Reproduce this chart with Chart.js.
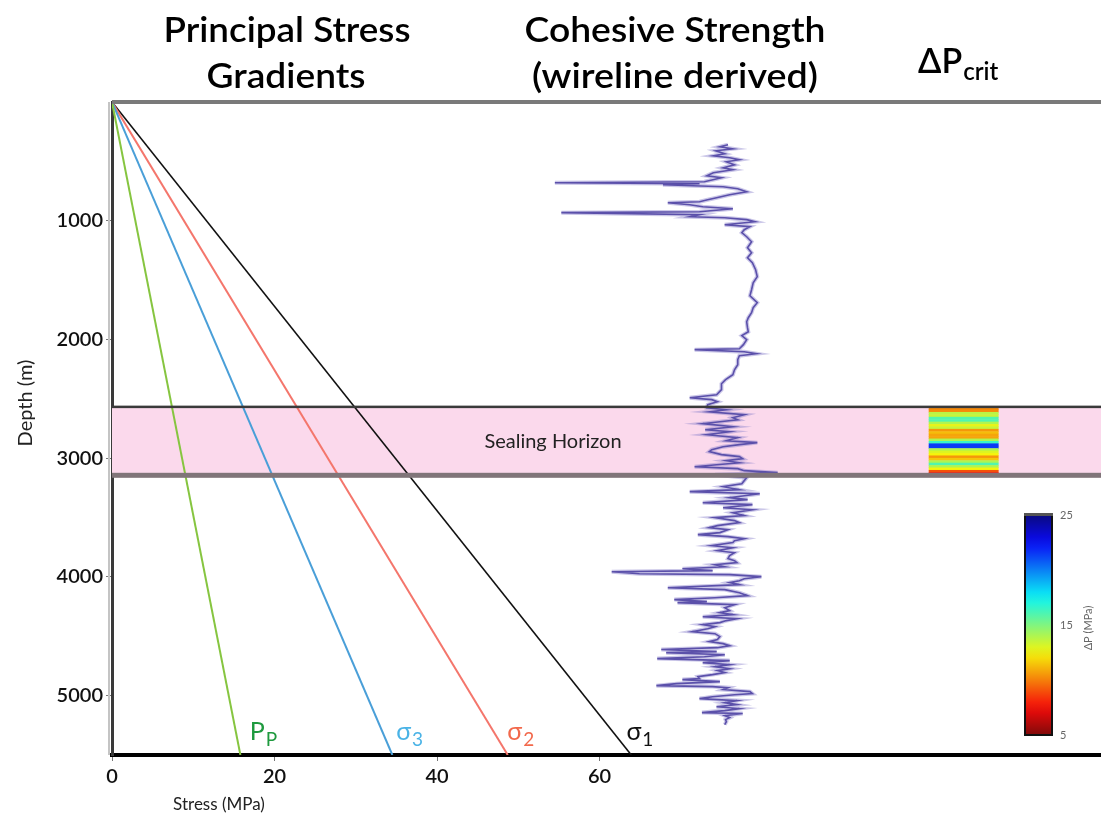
<!DOCTYPE html>
<html>
<head>
<meta charset="utf-8">
<script src="https://cdn.jsdelivr.net/npm/chart.js@4"></script>
<style>
  html, body { margin: 0; padding: 0; background: #fff; }
  canvas { display: block; }
</style>
</head>
<body>
<canvas id="chartStress" width="1101" height="817"></canvas>
<script>
// gradient lines: depth (m) and stress (MPa) at top and bottom
const gradDepth = [0, 5500];
const sigma1 = [0, 63.9];
const sigma2 = [0, 48.7];
const sigma3 = [0, 34.5];
const porePressure = [0, 15.8];

// cohesive strength log (wireline derived)
const cohDepth = [360,377,394,411,436,453,469,486,503,529,554,570,596,621,638,672,680,688,697,714,730,756,781,806,823,840,848,865,882,899,924,932,949,966,975,991,1008,1034,1050,1076,1101,1135,1177,1227,1269,1312,1353,1413,1471,1522,1581,1632,1690,1732,1775,1817,1851,1901,1935,1968,2002,2044,2078,2086,2103,2120,2137,2170,2213,2255,2297,2339,2373,2423,2466,2491,2507,2524,2550,2575,
  2592,2609,2634,2659,2676,2693,2709,2735,2760,2777,2802,2827,2853,2869,2886,2903,2928,2945,2970,2987,3004,3021,3038,3055,3072,3088,3105,3122,3139,3164,3189,
  3215,3240,3265,3282,3299,3316,3332,3349,3375,3391,3417,3434,3459,3484,3501,3526,3543,3568,3585,3602,3627,3644,3661,3678,3695,3711,3737,3754,3779,3796,3821,3846,3863,3880,3897,3914,3931,3947,3956,3973,3981,3998,4015,4032,4048,4065,4091,4107,4133,4158,4175,4191,4208,4217,4234,4259,4284,4301,4318,4335,4352,4368,4385,4402,4419,4436,4461,4478,4503,4528,4545,4562,4579,4596,4612,4629,4638,4655,4672,4688,4705,4722,4739,4756,4773,4789,4806,4823,4840,4857,4865,4882,4899,4916,4924,4933,4949,4966,4983,4992,5009,5025,5042,5059,5076,5093,5109,5126,5143,5151,5168,5185,5202,5219,5244];
const cohStrength = [75.8,74.8,76.4,74.3,75.4,74.0,76.0,77.2,75.6,76.6,75.2,76.4,74.0,73.2,75.0,72.9,54.5,72.3,67.8,75.2,77.0,78.1,76.0,74.4,73.3,72.3,68.4,71.1,72.7,76.4,72.3,55.3,72.3,71.1,75.4,78.1,79.1,75.4,78.5,77.8,77.5,78.1,78.7,78.2,78.7,78.2,78.8,79.2,79.4,78.9,78.7,78.5,79.4,78.9,78.7,78.3,78.1,78.2,78.3,77.5,78.1,77.7,77.2,71.7,77.8,79.3,77.2,77.0,77.0,76.6,76.4,75.5,75.0,75.0,74.4,71.1,73.8,74.5,73.3,73.2,
  75.6,73.5,77.8,76.4,77.0,74.8,72.7,76.4,73.0,76.0,73.2,77.0,75.6,79.4,77.2,75.2,73.8,73.5,75.0,77.2,77.6,75.6,77.2,74.4,71.7,77.0,77.8,81.9,74.2,78.1,77.8,
  77.5,75.2,77.2,71.1,79.7,77.8,76.0,78.2,72.7,78.8,75.2,78.8,76.4,77.8,74.2,76.6,77.2,74.5,73.5,75.8,74.8,72.1,75.8,77.8,76.6,76.4,73.8,76.4,74.5,76.6,76.0,75.8,76.6,76.9,74.2,75.4,70.2,73.9,61.5,64.9,76.0,79.9,77.8,77.2,76.0,77.2,68.4,75.4,77.2,78.2,74.2,69.2,73.2,69.6,76.6,75.4,76.0,74.8,76.4,72.7,76.9,75.6,74.8,72.7,74.2,73.3,71.4,74.2,74.8,74.5,73.5,75.2,76.0,74.5,67.6,74.4,68.2,75.4,72.9,67.1,76.0,72.7,76.0,74.2,76.0,74.5,75.4,73.9,72.1,72.3,70.2,74.8,69.5,67.0,73.9,75.8,75.2,78.5,78.8,76.6,73.9,72.3,76.9,75.4,76.9,74.4,77.2,75.4,72.6,77.6,75.4,76.0,75.5,75.6,75.4];

// sealing horizon (m) and critical pressure stripes inside it (MPa, top to bottom)
const sealDepth = [2570, 3140];
const deltaP = [10.2,10.2,13.8,13.5,16,16,14,12.8,13.5,10.5,11.3,10.8,10.8,14,16.5,21.5,21.5,14,13,12.5,10.5,11.5,14,16,14,12.5,9,7.5];
const deltaPStress = [100.5, 109.1];
const colorbarTicks = [25, 15, 5];

const xTicks = [0, 20, 40, 60];
const yTicks = [1000, 2000, 3000, 4000, 5000];

// jet-like map, 25 MPa dark blue down to 5 MPa dark red
function jet(v) {
  const t = 1 - (v - 5) / 20;
  const c = x => Math.round(235 * Math.max(0, Math.min(1, x)) + 10);
  return 'rgb(' + c(1.5 - Math.abs(4 * t - 3)) + ',' + c(1.5 - Math.abs(4 * t - 2)) + ',' + c(1.5 - Math.abs(4 * t - 1)) + ')';
}

function pts(xs, ys) {
  return xs.map((x, i) => ({ x: x, y: ys[i] }));
}

function fitText(ctx, txt, cx, y, font, width) {
  ctx.font = font;
  const w = ctx.measureText(txt).width;
  ctx.save();
  ctx.translate(cx, y);
  ctx.scale(width / w, 1);
  ctx.textAlign = 'center';
  ctx.fillText(txt, 0, 0);
  ctx.restore();
}

function subText(ctx, main, sub, x, y, size, color, subSize, drop, weight) {
  ctx.fillStyle = color;
  ctx.textAlign = 'left';
  ctx.font = (weight || '') + ' ' + size + 'px Lato, sans-serif';
  ctx.fillText(main, x, y);
  const w = ctx.measureText(main).width;
  ctx.font = (weight || '') + ' ' + subSize + 'px Lato, sans-serif';
  ctx.fillText(sub, x + w + 1, y + drop);
}

const sealPlugin = {
  id: 'seal',
  beforeDatasetsDraw(chart) {
    const { ctx, chartArea: a, scales: { y } } = chart;
    const top = y.getPixelForValue(sealDepth[0]);
    const bot = y.getPixelForValue(sealDepth[1]);
    ctx.save();
    ctx.fillStyle = '#fbd9ec';
    ctx.fillRect(a.left, top, a.right - a.left, bot - top);
    ctx.restore();
  },
  afterDatasetsDraw(chart) {
    const { ctx, chartArea: a, scales: { x, y } } = chart;
    const top = y.getPixelForValue(sealDepth[0]);
    const bot = y.getPixelForValue(sealDepth[1]);
    ctx.save();
    // critical pressure stripes
    const x0 = x.getPixelForValue(deltaPStress[0]);
    const x1 = x.getPixelForValue(deltaPStress[1]);
    const h = (bot - top) / deltaP.length;
    deltaP.forEach((v, i) => {
      ctx.fillStyle = jet(v);
      ctx.fillRect(x0, top + i * h, x1 - x0, h + 0.5);
    });
    ctx.fillStyle = '#3a3a3a';
    ctx.fillRect(a.left, top - 1.5, a.right - a.left, 2.5);
    ctx.fillStyle = '#807579';
    ctx.fillRect(a.left, bot - 2, a.right - a.left, 5);
    // top frame line
    ctx.fillStyle = '#7a7a7a';
    ctx.fillRect(a.left, a.top - 2, a.right - a.left, 4);
    ctx.fillStyle = '#c4c4c4';
    ctx.fillRect(a.left - 4, a.top, 2, a.bottom - a.top);
    ctx.restore();
  },
  afterDraw(chart) {
    const { ctx, scales: { x, y } } = chart;
    ctx.save();
    ctx.fillStyle = '#000';
    ctx.textBaseline = 'alphabetic';
    const tf = '600 34px Lato, sans-serif';
    fitText(ctx, 'Principal Stress', 287, 42, tf, 247);
    fitText(ctx, 'Gradients', 286, 88, tf, 159);
    fitText(ctx, 'Cohesive Strength', 675, 42, tf, 301);
    fitText(ctx, '(wireline derived)', 675, 88, tf, 286);
    subText(ctx, '\u0394P', 'crit', 918, 73, 34, '#000', 24, 7, '600');

    ctx.fillStyle = '#222';
    ctx.font = '20px Lato, sans-serif';
    ctx.textAlign = 'center';
    ctx.fillText('Sealing Horizon', 553, 448);

    // axis titles
    ctx.font = '17px Lato, sans-serif';
    ctx.fillText('Stress (MPa)', 219, 810);
    ctx.save();
    ctx.translate(32, 403);
    ctx.rotate(-Math.PI / 2);
    ctx.font = '20px Lato, sans-serif';
    ctx.fillText('Depth (m)', 0, 0);
    ctx.restore();

    // line labels near the bottom of each gradient
    const labDepth = 5300;
    const lab = (vals, main, sub, color) => {
      const px = x.getPixelForValue(vals[1] * labDepth / gradDepth[1]) + 14;
      subText(ctx, main, sub, px, 740, 25, color, 19, 6);
    };
    lab(porePressure, 'P', 'P', '#1f9a3f');
    lab(sigma3, '\u03c3', '3', '#4ab3e6');
    lab(sigma2, '\u03c3', '2', '#f2694c');
    lab(sigma1, '\u03c3', '1', '#111');

    // colour bar
    const cbL = 1025, cbR = 1052, cbT = 515, cbB = 735;
    const g = ctx.createLinearGradient(0, cbT, 0, cbB);
    for (let v = 25; v >= 5; v -= 1) g.addColorStop((25 - v) / 20, jet(v));
    ctx.fillStyle = g;
    ctx.fillRect(cbL, cbT, cbR - cbL, cbB - cbT);
    ctx.strokeStyle = '#111';
    ctx.lineWidth = 2;
    ctx.strokeRect(cbL, cbT, cbR - cbL, cbB - cbT);
    ctx.fillStyle = '#555';
    ctx.fillRect(cbL - 1, cbT - 2, cbR - cbL + 2, 3);
    ctx.fillStyle = '#666';
    ctx.font = '11px Lato, sans-serif';
    ctx.textAlign = 'left';
    ctx.textBaseline = 'middle';
    colorbarTicks.forEach(v => {
      ctx.fillText(String(v), cbR + 8, cbB - (v - 5) / 20 * (cbB - cbT));
    });
    ctx.save();
    ctx.translate(1088, 628);
    ctx.rotate(-Math.PI / 2);
    ctx.textAlign = 'center';
    ctx.fillText('\u0394P (MPa)', 0, 0);
    ctx.restore();
    ctx.restore();
  }
};

Chart.defaults.font.family = 'Lato, "Open Sans", sans-serif';

const ctxStress = document.getElementById('chartStress').getContext('2d');
const chartStress = new Chart(ctxStress, {
  type: 'scatter',
  data: {
    datasets: [
      { label: 'Pp', data: pts(porePressure, gradDepth), borderColor: '#86c540', borderWidth: 2 },
      { label: 'sigma3', data: pts(sigma3, gradDepth), borderColor: '#4a9fd8', borderWidth: 2 },
      { label: 'sigma2', data: pts(sigma2, gradDepth), borderColor: '#f4766c', borderWidth: 2 },
      { label: 'sigma1', data: pts(sigma1, gradDepth), borderColor: '#111', borderWidth: 1.6 },
      // soft halo under the log, as in the scanned figure
      { label: 'halo', data: pts(cohStrength, cohDepth), borderColor: 'rgba(140,130,205,0.45)', borderWidth: 4 },
      { label: 'Cohesive strength', data: pts(cohStrength, cohDepth), borderColor: '#33278f', borderWidth: 1.6 }
    ]
  },
  options: {
    responsive: false,
    animation: false,
    devicePixelRatio: 1,
    showLine: true,
    elements: { point: { radius: 0 }, line: { tension: 0 } },
    layout: { padding: { top: 102, right: 0, bottom: 0, left: 0 } },
    plugins: { legend: { display: false }, tooltip: { enabled: false } },
    scales: {
      x: {
        type: 'linear', min: 0, max: 121.7,
        afterBuildTicks: s => { s.ticks = xTicks.map(v => ({ value: v })); },
        afterFit: s => { s.height = 62; },
        ticks: { color: '#111', font: { size: 20, weight: '600' }, padding: 4, callback: v => String(v) },
        grid: { drawOnChartArea: false, tickLength: 6, color: '#777' },
        border: { color: '#000', width: 4 }
      },
      y: {
        type: 'linear', min: 0, max: 5500, reverse: true,
        afterBuildTicks: s => { s.ticks = yTicks.map(v => ({ value: v })); },
        afterFit: s => { s.width = 112; },
        ticks: { color: '#111', font: { size: 20, weight: '600' }, padding: 3, callback: v => String(v) },
        grid: { drawOnChartArea: false, tickLength: 6, color: '#777' },
        border: { color: '#3a3a3a', width: 3 }
      }
    }
  },
  plugins: [sealPlugin]
});
</script>
</body>
</html>
